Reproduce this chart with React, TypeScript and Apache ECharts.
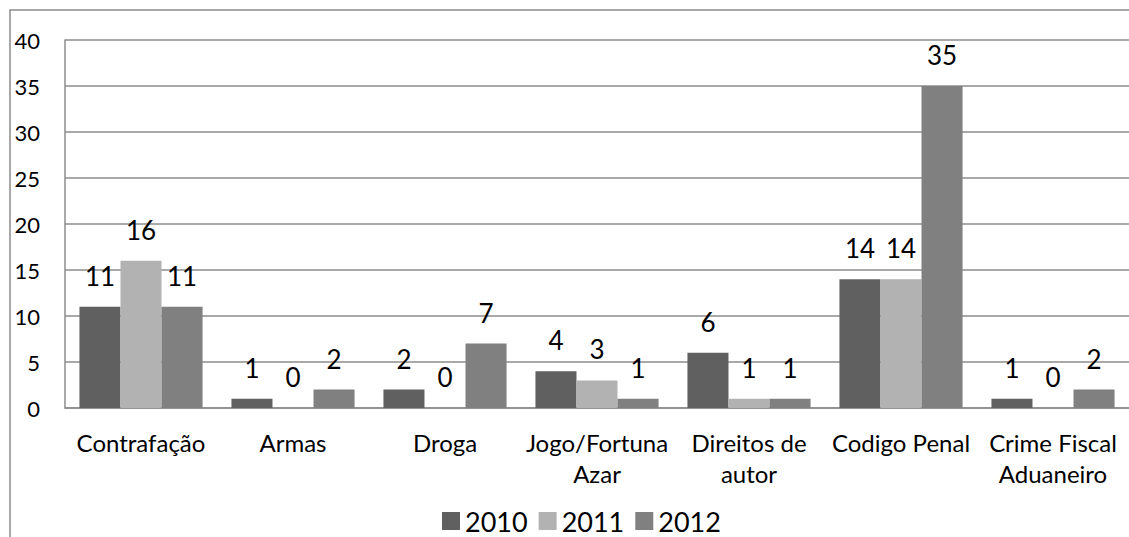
import React, { useEffect, useRef } from "react";
import * as echarts from "echarts";

const categories = [
  "Contrafação",
  "Armas",
  "Droga",
  "Jogo/Fortuna\nAzar",
  "Direitos de\nautor",
  "Codigo Penal",
  "Crime Fiscal\nAduaneiro",
];
const s2010 = [11, 1, 2, 4, 6, 14, 1];
const s2011 = [16, 0, 0, 3, 1, 14, 0];
const s2012 = [11, 2, 7, 1, 1, 35, 2];
const seriesNames = ["2010", "2011", "2012"];
const colors = ["#606060", "#b2b2b2", "#808080"];

const FONT = "Lato, 'Open Sans', sans-serif";

export default function App() {
  const ref = useRef<HTMLDivElement>(null);
  useEffect(() => {
    if (!ref.current) return;
    const chart = echarts.init(ref.current, null, { renderer: "svg" });
    const mk = (name: string, data: number[], color: string) => ({
      name,
      type: "bar",
      data,
      barGap: "0%",
      barCategoryGap: "19%",
      itemStyle: { color },
      label: {
        show: true,
        position: "top",
        distance: 18,
        color: "#000",
        fontSize: 26,
        fontFamily: FONT,
      },
    });
    chart.setOption({
      animation: false,
      backgroundColor: "#fff",
      color: colors,
      textStyle: { fontFamily: FONT },
      graphic: [
        {
          type: "rect",
          shape: { x: 10, y: 10, width: 1300, height: 700 },
          style: { fill: "none", stroke: "#8c8c8c", lineWidth: 1.5 },
          silent: true,
        },
      ],
      grid: { left: 65, right: 0, top: 40, bottom: 129, containLabel: false },
      legend: {
        top: 507,
        left: 442,
        padding: 0,
        itemWidth: 18,
        itemHeight: 18,
        itemGap: 11,
        icon: "rect",
        textStyle: { fontSize: 27, lineHeight: 28, color: "#000", fontFamily: FONT },
        data: seriesNames,
      },
      xAxis: {
        type: "category",
        data: categories,
        axisLine: { show: true, lineStyle: { color: "#8c8c8c", width: 1.5 } },
        axisTick: { show: false },
        axisLabel: {
          color: "#000",
          fontSize: 24,
          fontFamily: FONT,
          margin: 19,
          lineHeight: 31,
          interval: 0,
        },
      },
      yAxis: {
        type: "value",
        min: 0,
        max: 40,
        interval: 5,
        axisLine: { show: true, lineStyle: { color: "#8c8c8c", width: 1.5 } },
        axisTick: { show: false },
        splitLine: { lineStyle: { color: "#8c8c8c", width: 1.5 } },
        axisLabel: {
          color: "#000",
          fontSize: 22,
          fontFamily: FONT,
          margin: 25,
        },
      },
      series: [
        mk(seriesNames[0], s2010, colors[0]),
        mk(seriesNames[1], s2011, colors[1]),
        mk(seriesNames[2], s2012, colors[2]),
      ],
    });
    return () => chart.dispose();
  }, []);
  return (
    <div
      ref={ref}
      style={{ position: "absolute", left: 0, top: 0, width: 1129, height: 537 }}
    />
  );
}
